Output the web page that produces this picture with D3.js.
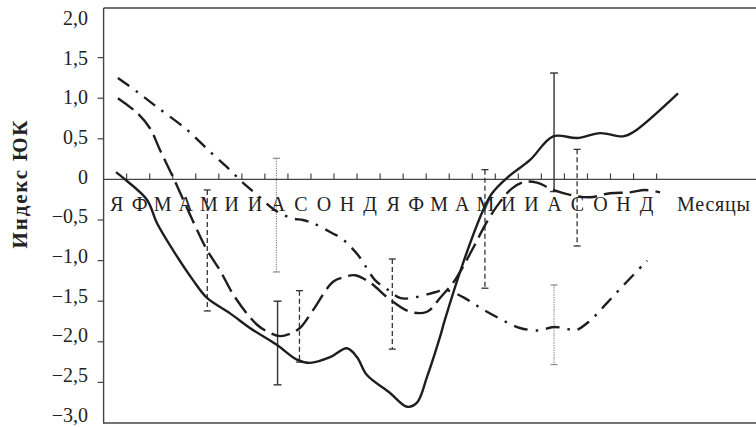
<!DOCTYPE html>
<html>
<head>
<meta charset="utf-8">
<script src="https://cdn.jsdelivr.net/npm/d3@7"></script>
<style>
  body { margin: 0; background: #fff; }
  text { font-family: "Liberation Serif", "DejaVu Serif", serif; fill: #222; }
</style>
</head>
<body>
<svg id="chart" width="756" height="427"></svg>
<script>
// month letters, two years
const months = ["Я","Ф","М","А","М","И","И","А","С","О","Н","Д",
                "Я","Ф","М","А","М","И","И","А","С","О","Н","Д"];
const yTicks = [2, 1.5, 1, 0.5, 0, -0.5, -1, -1.5, -2, -2.5, -3];

// [month position, index value]
const solidSeries = [
  [0.54, 0.09], [0.93, 0.0], [1.88, -0.25], [2.32, -0.54], [3.01, -0.87],
  [3.88, -1.24], [4.49, -1.46], [5.49, -1.65], [6.35, -1.83], [7.53, -2.04],
  [8.39, -2.22], [8.96, -2.26], [9.83, -2.19], [10.56, -2.08], [11.0, -2.19],
  [11.43, -2.41], [12.43, -2.63], [13.17, -2.80], [13.6, -2.75], [14.04, -2.43],
  [14.6, -1.94], [14.81, -1.73], [15.6, -1.03], [16.47, -0.38], [16.86, -0.17],
  [17.51, 0.02], [18.51, 0.24], [19.51, 0.53], [20.55, 0.51], [21.55, 0.57],
  [22.54, 0.53], [22.98, 0.58], [24.93, 1.06]
];
const dashedSeries = [
  [0.62, 1.0], [1.45, 0.82], [2.01, 0.63], [2.45, 0.36], [3.01, 0.03],
  [4.05, -0.62], [4.49, -0.87], [5.05, -1.12], [5.7, -1.45], [6.66, -1.79],
  [7.22, -1.89], [7.66, -1.93], [8.09, -1.90], [8.52, -1.83], [9.09, -1.61],
  [9.96, -1.26], [10.48, -1.20], [10.91, -1.18], [11.56, -1.27], [12.43, -1.48],
  [13.3, -1.63], [14.04, -1.63], [14.6, -1.46], [15.25, -1.24], [15.99, -0.87],
  [16.64, -0.52], [17.2, -0.28], [17.73, -0.11], [18.29, -0.03], [18.81, -0.04],
  [19.51, -0.13], [20.25, -0.19], [21.11, -0.22], [21.98, -0.17], [22.84, -0.16],
  [23.5, -0.13], [24.15, -0.16]
];
const dashDotSeries = [
  [0.62, 1.25], [1.45, 1.08], [2.32, 0.89], [3.62, 0.61], [4.62, 0.34],
  [5.36, 0.15], [6.01, -0.03], [6.66, -0.19], [7.44, -0.38], [8.18, -0.48],
  [8.65, -0.50], [9.09, -0.54], [9.91, -0.66], [10.3, -0.72], [11.04, -0.93],
  [11.78, -1.24], [12.34, -1.36], [12.86, -1.46], [13.39, -1.46], [14.38, -1.39],
  [14.81, -1.36], [15.6, -1.45], [16.34, -1.58], [17.16, -1.71], [18.07, -1.83],
  [18.94, -1.86], [19.46, -1.82], [19.98, -1.83], [20.46, -1.86], [21.11, -1.74],
  [21.85, -1.52], [22.71, -1.26], [23.59, -1.0]
];

// error bars: [month position, top, bottom]
const errSolid = [[7.55, -1.50, -2.53], [19.55, 1.31, -0.15]];
const errDashed = [[4.5, -0.13, -1.62], [8.5, -1.37, -2.25], [12.53, -0.98, -2.09],
                   [16.55, 0.12, -1.34], [20.55, 0.37, -0.82]];
const errDotted = [[7.5, 0.26, -1.14], [19.55, -1.30, -2.28]];

const W = 756, H = 427;
const svg = d3.select("#chart");

const x = d3.scaleLinear().domain([0, 24]).range([103.6, 656.6]);
const y = d3.scaleLinear().domain([-3, 2]).range([423, 17]);
// tick labels sit a little tighter than the ticks themselves
const yLab = d3.scaleLinear().domain([-3, 2]).range([415, 18]);

const axisColor = "#444";
const frameTop = 8;

// frame
svg.append("line").attr("x1", x(0)).attr("x2", W).attr("y1", frameTop).attr("y2", frameTop)
  .attr("stroke", axisColor).attr("stroke-width", 1.4);
svg.append("line").attr("x1", x(0)).attr("x2", W).attr("y1", y(-3)).attr("y2", y(-3))
  .attr("stroke", axisColor).attr("stroke-width", 1.4);
svg.append("line").attr("x1", x(0)).attr("x2", x(0)).attr("y1", frameTop).attr("y2", y(-3) + 0.7)
  .attr("stroke", axisColor).attr("stroke-width", 1.4);

// zero line with month ticks
svg.append("line").attr("x1", x(0)).attr("x2", W).attr("y1", y(0)).attr("y2", y(0))
  .attr("stroke", axisColor).attr("stroke-width", 1.4);
svg.append("g").selectAll("line")
  .data(d3.range(1, 25))
  .join("line")
  .attr("x1", d => x(d)).attr("x2", d => x(d))
  .attr("y1", y(0)).attr("y2", y(0) - 6)
  .attr("stroke", axisColor).attr("stroke-width", 1.2);

// y ticks and labels
svg.append("g").selectAll("line")
  .data(yTicks.filter(t => t !== 0 && t !== 2 && t !== -3))
  .join("line")
  .attr("x1", x(0) - 6).attr("x2", x(0))
  .attr("y1", d => y(d)).attr("y2", d => y(d))
  .attr("stroke", axisColor).attr("stroke-width", 1.2);

const fmt = v => v === 0 ? "0" : (v < 0 ? "\u2212" : "") + Math.abs(v).toFixed(1).replace(".", ",");
svg.append("g").selectAll("text")
  .data(yTicks)
  .join("text")
  .attr("x", 88).attr("y", d => yLab(d))
  .attr("dy", "0.34em")
  .attr("text-anchor", "end")
  .attr("font-size", 20)
  .text(fmt);

// month letters
svg.append("g").selectAll("text")
  .data(months)
  .join("text")
  .attr("x", (d, i) => x(i + 0.5) + 1.5)
  .attr("y", 211)
  .attr("text-anchor", "middle")
  .attr("font-size", 20)
  .text(d => d);

svg.append("text")
  .attr("x", 677).attr("y", 211)
  .attr("font-size", 20)
  .attr("textLength", 73)
  .text("Месяцы");

svg.append("text")
  .attr("transform", `translate(27, ${y(0) + 5}) rotate(-90)`)
  .attr("text-anchor", "middle")
  .attr("font-size", 21)
  .attr("font-weight", "bold")
  .attr("textLength", 128)
  .text("Индекс ЮК");

// error bars
function drawErr(data, dash, color, width, cap) {
  const g = svg.append("g").attr("stroke", color).attr("stroke-width", width).attr("fill", "none");
  data.forEach(([m, hi, lo]) => {
    g.append("line").attr("x1", x(m)).attr("x2", x(m)).attr("y1", y(hi)).attr("y2", y(lo))
      .attr("stroke-dasharray", dash);
    [hi, lo].forEach(v => g.append("line")
      .attr("x1", x(m) - cap).attr("x2", x(m) + cap).attr("y1", y(v)).attr("y2", y(v)));
  });
}
drawErr(errSolid, null, "#333", 1.4, 4);
drawErr(errDashed, "5,3", "#333", 1.3, 3.5);
drawErr(errDotted, "1.2,1.2", "#888", 1.2, 3.5);

// curves
const line = d3.line()
  .x(d => x(d[0]))
  .y(d => y(d[1]))
  .curve(d3.curveCatmullRom.alpha(0.5));

svg.append("path").datum(solidSeries).attr("d", line)
  .attr("fill", "none").attr("stroke", "#1e1e1e").attr("stroke-width", 2.4);
svg.append("path").datum(dashedSeries).attr("d", line)
  .attr("fill", "none").attr("stroke", "#1e1e1e").attr("stroke-width", 2.4)
  .attr("stroke-dasharray", "19,7");
svg.append("path").datum(dashDotSeries).attr("d", line)
  .attr("fill", "none").attr("stroke", "#1e1e1e").attr("stroke-width", 2.4)
  .attr("stroke-dasharray", "14,8,2.5,8");
</script>
</body>
</html>
